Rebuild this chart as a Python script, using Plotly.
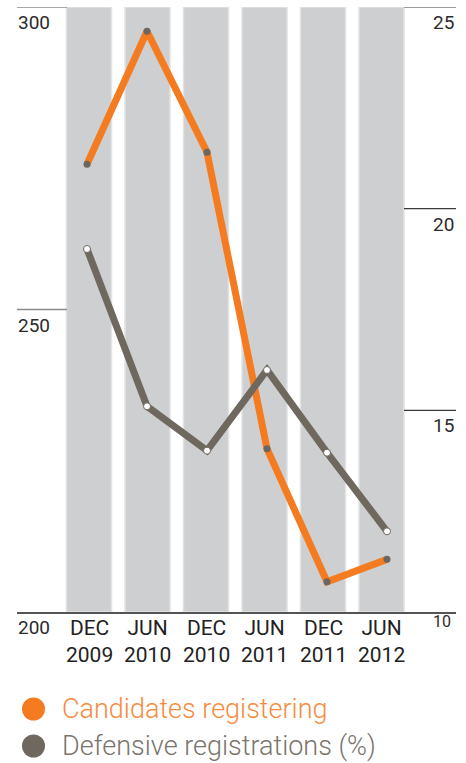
import plotly.graph_objects as go

# ---- data ----
periods = ["DEC<br>2009", "JUN<br>2010", "DEC<br>2010", "JUN<br>2011", "DEC<br>2011", "JUN<br>2012"]
candidates = [274, 296, 276, 227, 205, 208.7]
defensive = [19.0, 15.1, 14.0, 16.0, 13.95, 12.0]
left_ticks = [200, 250, 300]
right_ticks = [10, 15, 20, 25]
legend_labels = ["Candidates registering", "Defensive registrations (%)"]

ORANGE = "#f47b20"
GRAY = "#6f685f"
BAR = "#cdcfd1"
FONT = "Roboto, Liberation Sans, sans-serif"

idx = list(range(len(periods)))
left_range = [200, 300]
right_range = [10, 25]

fig = go.Figure()

# background column bars spanning the full left-axis range
fig.add_trace(go.Bar(
    x=idx, y=[left_range[1] - left_range[0]] * len(idx), base=left_range[0],
    marker=dict(color=BAR, line=dict(color="#e2e3e4", width=1.5)),
    hoverinfo="skip", showlegend=False, xaxis="x", yaxis="y",
))

fig.add_trace(go.Scatter(
    x=idx, y=candidates, mode="lines+markers",
    line=dict(color=ORANGE, width=7),
    marker=dict(color="#6b6660", size=7),
    showlegend=False, xaxis="x2", yaxis="y",
))

fig.add_trace(go.Scatter(
    x=idx, y=defensive, mode="lines+markers",
    line=dict(color=GRAY, width=7),
    marker=dict(color="white", size=7, line=dict(color=GRAY, width=1)),
    showlegend=False, xaxis="x2", yaxis="y2",
))

annotations = []
# category labels under the columns
for i, lab in zip(idx, periods):
    annotations.append(dict(
        x=i, xref="x", y=left_range[0], yref="y", text=lab, showarrow=False,
        xanchor="center", yanchor="top", yshift=-2,
        font=dict(family=FONT, size=21, color="#222222"),
    ))
for v in left_ticks:
    annotations.append(dict(
        x=0, xref="paper", y=v, yref="y", text=str(v), showarrow=False,
        xanchor="left", yanchor="top", yshift=-2, xshift=-1,
        font=dict(family=FONT, size=19, color="#2b2b2b"),
    ))
for v in right_ticks:
    annotations.append(dict(
        x=1, xref="paper", y=v, yref="y2", text=str(v), showarrow=False,
        xanchor="right", yanchor="top", yshift=-2 if v != 10 else 2, xshift=-3 if v == 10 else 0,
        font=dict(family=FONT, size=16 if v == 10 else 19, color="#2b2b2b"),
    ))

legend_colors = [ORANGE, GRAY]
legend_text_colors = ["#f68b3e", "#7a746c"]
shapes = []
for i, (lab, c, tc) in enumerate(zip(legend_labels, legend_colors, legend_text_colors)):
    yc = 709 + i * 37  # pixel center
    ypaper = (612 - yc) / 605.0
    annotations.append(dict(
        x=(60 - 17) / 439.0, xref="paper", y=ypaper, yref="paper", text=lab,
        showarrow=False, xanchor="left", yanchor="middle",
        font=dict(family="Roboto, Lato, sans-serif", size=27, color=tc, weight=300),
    ))
    shapes.append(dict(
        type="circle", xref="paper", yref="paper",
        x0=(22 - 17) / 439.0, x1=(45 - 17) / 439.0,
        y0=(612 - yc - 11.5) / 605.0, y1=(612 - yc + 11.5) / 605.0,
        fillcolor=c, line=dict(width=0),
    ))

# tick lines
for v in left_ticks[1:]:
    shapes.append(dict(type="line", xref="paper", yref="y", x0=0, x1=50 / 439.0, y0=v, y1=v,
                       line=dict(color="#8a8a8a", width=1.5)))
for v in right_ticks:
    if v == 10:
        continue
    shapes.append(dict(type="line", xref="paper", yref="y2", x0=(404 - 17) / 439.0, x1=1, y0=v, y1=v,
                       line=dict(color="#3a3a3a", width=1.2)))

fig.update_layout(
    width=466, height=763,
    margin=dict(l=17, r=10, t=7, b=151),
    paper_bgcolor="white", plot_bgcolor="white",
    bargap=0.23,
    showlegend=False,
    xaxis=dict(range=[-1.231, 6.273], showticklabels=False,
               showgrid=False, zeroline=False, showline=True, linecolor="#555555", linewidth=1.5,
               ticks="", fixedrange=True),
    xaxis2=dict(range=[-1.1667, 6.15], overlaying="x", showgrid=False, zeroline=False,
                showticklabels=False, ticks="", visible=False),
    yaxis=dict(range=left_range, showgrid=False, zeroline=False, showticklabels=False, ticks=""),
    yaxis2=dict(range=right_range, overlaying="y", side="right", showgrid=False, zeroline=False,
                showticklabels=False, ticks=""),
    annotations=annotations,
    shapes=shapes,
)

fig.write_html("out.html")
